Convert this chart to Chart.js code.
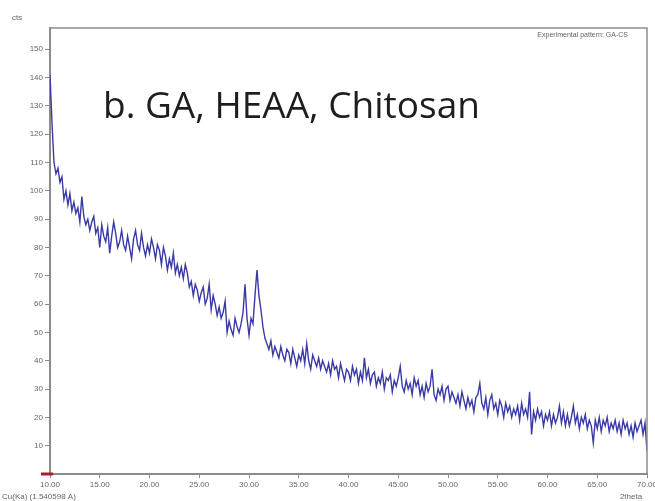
<!DOCTYPE html>
<html>
<head>
<meta charset="utf-8">
<script src="https://cdn.jsdelivr.net/npm/chart.js@4/dist/chart.umd.min.js"></script>
<style>
  html, body { margin: 0; padding: 0; background: #fff; }
  #wrap { width: 655px; height: 501px; }
</style>
</head>
<body>
<div id="wrap"><canvas id="xrd" width="655" height="501"></canvas></div>
<script>
// scan settings: 2theta from 10 to 70 deg, one reading every 0.2 deg
const scanStart = 10;
const scanStep = 0.2;

// counts per reading, one row per two degrees (10 readings)
const counts = [
  141, 124, 110, 106, 108,   103, 105, 97, 100, 95,
  99, 93, 96, 92, 94,        89, 98, 91, 88, 90,
  86, 89, 91, 85, 87,        80, 88, 84, 82, 87,
  78, 84, 89, 85, 80,        82, 86, 81, 79, 84,
  80, 76, 83, 86, 81,        79, 85, 80, 77, 81,

  78, 83, 80, 76, 81,        79, 74, 80, 77, 72,
  76, 73, 78, 71, 74,        70, 73, 69, 74, 71,
  66, 68, 63, 67, 65,        61, 64, 66, 60, 62,
  67, 58, 63, 60, 56,        59, 55, 57, 61, 50,
  54, 51, 49, 55, 52,        50, 53, 57, 67, 55,

  49, 55, 53, 63, 72,        63, 58, 52, 48, 46,
  44, 47, 42, 45, 43,        41, 45, 42, 40, 44,
  43, 39, 44, 41, 38,        42, 40, 44, 39, 46,
  40, 37, 42, 40, 38,        41, 37, 40, 38, 36,
  39, 35, 40, 37, 38,        34, 39, 36, 33, 37,

  36, 33, 38, 35, 37,        32, 36, 33, 41, 34,
  37, 32, 35, 36, 31,        34, 32, 36, 30, 34,
  33, 35, 29, 33, 31,        34, 38, 31, 29, 33,
  30, 32, 28, 34, 31,        33, 28, 31, 27, 32,
  29, 31, 37, 28, 26,        30, 28, 31, 26, 30,

  31, 26, 29, 27, 25,        28, 24, 29, 26, 23,
  27, 24, 26, 22, 27,        28, 32, 25, 23, 27,
  21, 26, 28, 23, 25,        21, 26, 24, 20, 25,
  22, 24, 20, 23, 21,        24, 19, 25, 21, 23,
  20, 29, 14, 22, 19,        23, 20, 22, 17, 21,

  19, 22, 17, 21, 18,        20, 24, 18, 22, 17,
  21, 17, 20, 24, 18,        21, 16, 20, 18, 21,
  16, 19, 17, 11, 19,        16, 20, 15, 19, 17,
  20, 15, 18, 16, 19,        15, 18, 14, 19, 16,
  18, 14, 17, 13, 18,        15, 17, 19, 14, 18,
  8
];

const xTicks = [10, 15, 20, 25, 30, 35, 40, 45, 50, 55, 60, 65, 70];
const yTicks = [10, 20, 30, 40, 50, 60, 70, 80, 90, 100, 110, 120, 130, 140, 150];

const sampleName = 'b. GA, HEAA, Chitosan';
const patternLabel = 'Experimental pattern: GA-CS';

const points = counts.map((c, i) => ({ x: +(scanStart + i * scanStep).toFixed(2), y: c }));

const axisGray = '#8c8c8c';
const tickFont = { family: 'Liberation Sans', size: 8 };

// frame, origin marker and the loose captions around the plot
const decorations = {
  id: 'decorations',
  afterDraw(chart) {
    const { ctx, chartArea: a } = chart;
    ctx.save();
    ctx.strokeStyle = axisGray;
    ctx.lineWidth = 1.5;
    ctx.beginPath();
    ctx.moveTo(a.left, a.top);
    ctx.lineTo(a.right, a.top);
    ctx.lineTo(a.right, a.bottom);
    ctx.stroke();

    ctx.strokeStyle = '#a8202c';
    ctx.lineWidth = 3;
    ctx.beginPath();
    ctx.moveTo(a.left - 9, a.bottom);
    ctx.lineTo(a.left + 3, a.bottom);
    ctx.stroke();

    ctx.fillStyle = '#666';
    ctx.font = '8px "Liberation Sans"';
    ctx.textBaseline = 'middle';
    ctx.textAlign = 'left';
    ctx.fillText('cts', 12, 18);
    ctx.fillText('Cu(Ka) (1.540598 A)', 2, 497);
    ctx.textAlign = 'center';
    ctx.fillText('2theta', 631, 497);
    ctx.font = '7px "Liberation Sans"';
    ctx.textAlign = 'right';
    ctx.fillText(patternLabel, a.right - 19, a.top + 7);

    ctx.fillStyle = '#1e1e1e';
    ctx.font = '37px "Open Sans"';
    ctx.textAlign = 'left';
    ctx.textBaseline = 'alphabetic';
    ctx.fillText(sampleName, 103, 118);
    ctx.restore();
  }
};

new Chart(document.getElementById('xrd'), {
  type: 'line',
  data: {
    datasets: [{
      data: points,
      borderColor: '#3a3aa6',
      borderWidth: 1.4,
      pointRadius: 0,
      tension: 0,
      fill: false
    }]
  },
  options: {
    responsive: false,
    animation: false,
    layout: { padding: { top: 28, right: 8, left: 0, bottom: 0 } },
    plugins: { legend: { display: false }, tooltip: { enabled: false } },
    scales: {
      x: {
        type: 'linear',
        min: 10,
        max: 70,
        afterBuildTicks: s => { s.ticks = xTicks.map(v => ({ value: v })); },
        afterFit: s => { s.height = 27; s.paddingLeft = 0; s.paddingRight = 0; },
        ticks: {
          callback: v => Number(v).toFixed(2),
          font: tickFont,
          color: '#666',
          maxRotation: 0,
          autoSkip: false,
          padding: 2
        },
        grid: { drawOnChartArea: false, drawTicks: true, tickLength: 4, color: axisGray },
        border: { color: axisGray, width: 2 }
      },
      y: {
        min: 0,
        max: 157.5,
        afterBuildTicks: s => { s.ticks = yTicks.map(v => ({ value: v })); },
        afterFit: s => { s.width = 50; s.paddingTop = 0; s.paddingBottom = 0; },
        ticks: { font: tickFont, color: '#666', padding: 2, autoSkip: false },
        grid: { drawOnChartArea: false, drawTicks: true, tickLength: 5, color: axisGray },
        border: { color: axisGray, width: 2 }
      }
    }
  },
  plugins: [decorations]
});
</script>
</body>
</html>
